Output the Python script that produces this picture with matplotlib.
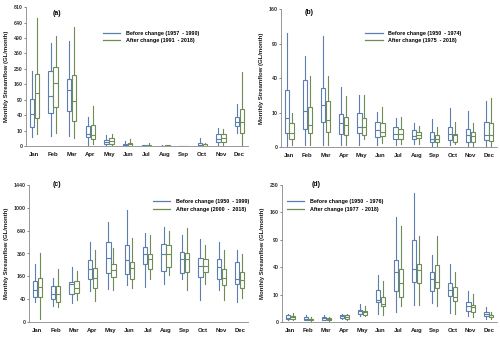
import numpy as np
import matplotlib
matplotlib.use("Agg")
import matplotlib.pyplot as plt
from matplotlib.lines import Line2D

plt.rcParams["font.family"] = ["Liberation Sans", "DejaVu Sans"]

months = ["Jan", "Feb", "Mar", "Apr", "May", "Jun",
          "Jul", "Aug", "Sep", "Oct", "Nov", "Dec"]

# box stats per month: [whisker low, q1, median, q3, whisker high] (GL/month)
a_before = [[3.4, 15, 42, 91, 238], [4, 47, 103, 238, 449], [4, 51, 134, 190, 464],
            [0, 3.4, 6.4, 16, 36], [0, 0.2, 0.8, 1.4, 4.8], [0, 0.01, 0.08, 0.23, 1.1],
            [0, 0, 0.005, 0.02, 0.08], [0, 0, 0, 0.005, 0.02], [0, 0, 0, 0, 0],
            [0, 0, 0.08, 0.4, 2.5], [0, 0.68, 2.3, 5.8, 13.7], [7.2, 16.4, 24, 36, 73]]
a_after = [[6.4, 33, 119, 217, 687], [7.5, 64, 165, 264, 509], [3, 26, 86, 213, 593],
           [0.1, 2.3, 4.8, 18, 67], [0, 0.2, 0.9, 2.7, 6.4], [0, 0.01, 0.1, 0.4, 2.1],
           [0, 0, 0.01, 0.04, 0.47], [0, 0, 0.005, 0.03, 0.05], [0, 0, 0, 0, 0],
           [0, 0, 0.01, 0.12, 0.4], [0.03, 0.7, 2.7, 5.8, 12.7], [0, 7.2, 24, 59, 232]]

b_before = [[0, 1.7, 7.2, 27, 109], [0.03, 2.6, 10.8, 38, 70], [0.03, 5.2, 15.2, 29.4, 104],
            [0.03, 1.5, 4.9, 9.3, 30], [0.03, 1.7, 3.5, 9.9, 23], [0.03, 0.84, 2.3, 5.4, 10.4],
            [0.05, 0.58, 1.4, 3.3, 7.2], [0.1, 0.49, 1.1, 2.4, 4.7], [0, 0.2, 0.58, 1.9, 6.4],
            [0.05, 0.37, 1.5, 3.3, 13], [0, 0.2, 1.2, 2.8, 11.2], [0, 0.41, 1.3, 5.2, 18.2]]
b_after = [[0.03, 0.5, 1.7, 4.9, 9.8], [0.03, 1.6, 4.0, 13.6, 42], [0.03, 2.0, 6.1, 17.7, 43],
           [0.03, 1.2, 4.2, 7.7, 22], [0.5, 1.2, 3.3, 6.9, 23], [0.16, 1.1, 2.0, 4.7, 13.6],
           [0.1, 0.58, 1.4, 2.6, 7.5], [0.1, 0.63, 1.3, 1.9, 3.7], [0, 0.2, 0.5, 1.3, 3.5],
           [0.1, 0.2, 1.3, 1.5, 5.2], [0, 0.2, 1.1, 2.0, 4.9], [0, 0.3, 1.3, 4.7, 20]]

c_before = [[31, 48, 77, 129, 261], [21, 42, 60, 99, 148], [27, 62, 109, 125, 235],
            [74, 144, 213, 295, 495], [82, 187, 318, 491, 767], [103, 174, 292, 451, 957],
            [94, 261, 351, 435, 603], [113, 200, 358, 471, 692], [140, 187, 308, 380, 585],
            [39, 158, 241, 318, 524], [79, 140, 232, 301, 495], [31, 109, 140, 279, 398]]
c_after = [[0.85, 48, 94, 151, 369], [17, 32, 60, 99, 218], [39, 66, 90, 129, 200],
           [34, 90, 146, 221, 394], [79, 158, 207, 255, 416], [90, 140, 227, 276, 537],
           [140, 213, 301, 351, 581], [167, 232, 351, 451, 635], [79, 194, 301, 362, 683],
           [109, 194, 241, 301, 451], [39, 103, 146, 213, 394], [45, 87, 133, 192, 351]]

d_before = [[0.05, 0.15, 0.25, 0.6, 0.9], [0.04, 0.07, 0.15, 0.29, 0.72], [0.04, 0.07, 0.18, 0.38, 0.6],
            [0.1, 0.21, 0.43, 0.66, 0.79], [0.43, 0.86, 1.5, 2.0, 4.3], [0.93, 5.2, 6.7, 13.4, 29.6],
            [1.25, 12.6, 34, 52, 147], [4.0, 21.4, 37.6, 89, 223], [4.8, 12.6, 24.7, 33.5, 59.5],
            [1.1, 8.8, 14, 20.4, 45.5], [0.43, 1.7, 3.3, 5.2, 12.6], [0.15, 0.43, 0.86, 1.25, 3.0]]
d_after = [[0.07, 0.15, 0.3, 0.48, 1.1], [0.03, 0.05, 0.1, 0.15, 0.38], [0.02, 0.05, 0.12, 0.18, 0.38],
           [0.04, 0.15, 0.33, 0.6, 0.86], [0.43, 0.72, 1.25, 1.72, 3.3], [0.6, 3.3, 4.5, 8.4, 22.9],
           [3.3, 8.1, 20.4, 37.6, 122], [4.0, 20.4, 35.7, 45.5, 98], [3.6, 15.5, 21, 44, 98],
           [0.86, 6.1, 8.1, 16.4, 34], [0.4, 1.25, 2.9, 4.0, 10.5], [0.1, 0.29, 0.6, 0.72, 1.34]]

panels = [
    ("(a)", a_before, a_after, "Before change (1957  - 1990)", "After change (1991  - 2018)",
     [0, 10, 40, 90, 160, 250, 360, 490, 640, 810]),
    ("(b)", b_before, b_after, "Before change (1950  - 1974)", "After change (1975  - 2018)",
     [0, 10, 40, 90, 160]),
    ("(c)", c_before, c_after, "Before change (1950  - 1999)", "After change (2000  -  2018)",
     [0, 40, 160, 360, 640, 1000, 1440]),
    ("(d)", d_before, d_after, "Before change (1950  - 1976)", "After change (1977  - 2018)",
     [0, 10, 40, 90, 160, 250]),
]

# axes rectangles in figure fraction, legend anchors / panel labels in axes fraction
rects = [[0.052, 0.568, 0.444, 0.411], [0.562, 0.565, 0.432, 0.408],
         [0.058, 0.047, 0.438, 0.406], [0.564, 0.047, 0.430, 0.406]]
leg_pos = [(0.347, 0.83), (0.39, 0.845), (0.566, 0.895), (0.023, 0.895)]
lab_pos = [(0.12, 0.957), (0.11, 0.975), (0.11, 1.0), (0.14, 1.0)]

blue = "#5b7fb0"
green = "#6e8c55"


def to_stats(rows):
    out = []
    for lo, q1, med, q3, hi in rows:
        out.append(dict(whislo=lo, q1=q1, med=med, q3=q3, whishi=hi))
    return out


fig = plt.figure(figsize=(5, 3.38), dpi=100)
pos = np.arange(1, 13)

for i, (lab, before, after, lb, la, ticks) in enumerate(panels):
    ax = fig.add_axes(rects[i])
    ax.set_yscale("function", functions=(lambda v: np.sqrt(np.clip(v, 0, None)), np.square))
    for data, col, off in [(before, blue, -0.135), (after, green, 0.135)]:
        ax.bxp(to_stats(data), positions=pos + off, widths=0.24, showfliers=False,
               showcaps=False, patch_artist=True, manage_ticks=False,
               boxprops=dict(facecolor="white", edgecolor=col, linewidth=0.8),
               medianprops=dict(color=col, linewidth=0.8),
               whiskerprops=dict(color=col, linewidth=0.8))
    ax.set_ylim(0, ticks[-1])
    ax.set_xlim(0.55, 12.45)
    ax.set_yticks(ticks)
    ax.set_yticklabels([str(t) for t in ticks], fontsize=3.8, fontweight="bold", color="#333333")
    ax.set_xticks(pos)
    ax.set_xticklabels(months, fontsize=4.3, fontweight="bold", color="#1a1a1a")
    ax.tick_params(axis="x", length=0, pad=4)
    ax.tick_params(axis="y", length=1.5, width=0.5, pad=1, color="#555555")
    for s in ["top", "right"]:
        ax.spines[s].set_visible(False)
    for s in ["left", "bottom"]:
        ax.spines[s].set_color("#888888")
        ax.spines[s].set_linewidth(0.6)
    ax.set_ylabel("Monthly Streamflow (GL/month)", fontsize=4.3, fontweight="bold",
                  labelpad=3, color="#1a1a1a")
    ax.text(lab_pos[i][0], lab_pos[i][1], lab, transform=ax.transAxes,
            fontsize=5, fontweight="bold", va="center")
    handles = [Line2D([], [], color=blue, lw=0.9), Line2D([], [], color=green, lw=0.9)]
    ax.legend(handles, [lb, la], loc="upper left", bbox_to_anchor=leg_pos[i],
              frameon=False, prop=dict(size=3.9, weight="bold"), borderpad=0,
              borderaxespad=0, handlelength=3.2, labelspacing=0.45, handletextpad=1.0)

fig.savefig("out.png", dpi=100)
